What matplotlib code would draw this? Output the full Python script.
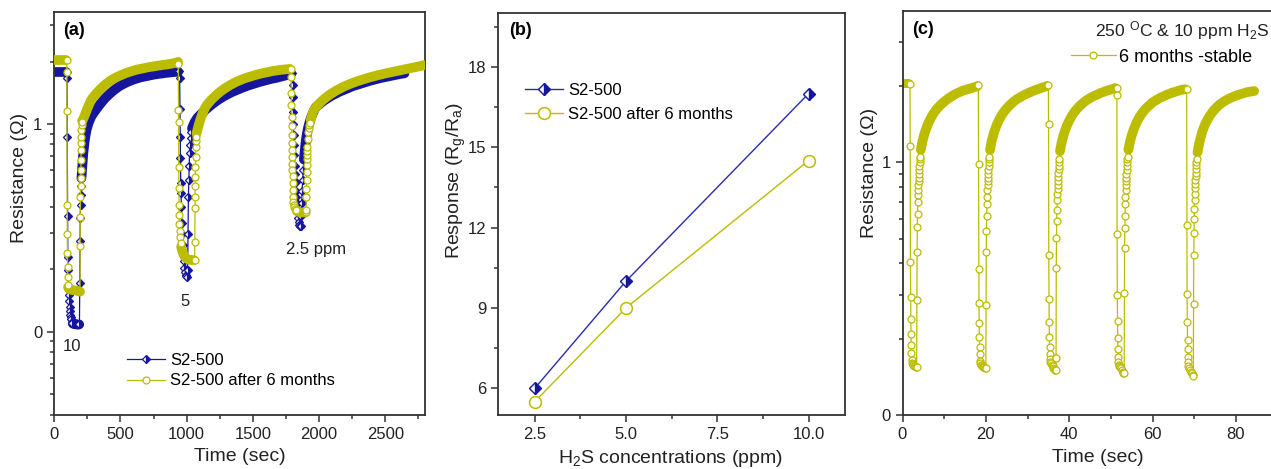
import numpy as np
import matplotlib
matplotlib.use("Agg")
import matplotlib.pyplot as plt
from matplotlib.lines import Line2D
from matplotlib.ticker import FixedLocator, MultipleLocator

plt.rcParams['font.family'] = ['Liberation Sans', 'DejaVu Sans']
plt.rcParams['mathtext.fontset'] = 'custom'
plt.rcParams['mathtext.rm'] = 'Liberation Sans'
plt.rcParams['mathtext.it'] = 'Liberation Sans:italic'
plt.rcParams['mathtext.bf'] = 'Liberation Sans:bold'

# ---------------------------------------------------------------------------
# Data. Resistance traces are stored as log10 values; each trace is a list of
# (start time, sampling step, values) segments.
# ---------------------------------------------------------------------------

# (a) S2-500, 10 / 5 / 2.5 ppm H2S pulses (time in s)
a_s2 = [
    (0, 10, [1.25, 1.25, 1.25, 1.25, 1.25, 1.25, 1.25, 1.25, 1.25, 1.25]),
    (94, 2, [1.25, 1.22, 0.94, 0.56, 0.36, 0.30]),
    (107, 3, [0.22, 0.18, 0.15, 0.12, 0.10, 0.08, 0.07, 0.06, 0.05, 0.045]),
    (140, 6, [0.040, 0.040, 0.038, 0.038, 0.036, 0.036, 0.035, 0.035, 0.036]),
    (190, 2, [0.04, 0.234, 0.44, 0.55, 0.61, 0.66, 0.70]),
    (205, 7, [0.74, 0.80, 0.86, 0.90, 0.935, 0.96, 0.98, 0.995, 1.01, 1.02, 1.03, 1.04]),
    (290, 15, [1.047, 1.061, 1.074, 1.087, 1.099, 1.111, 1.122, 1.132, 1.141, 1.150,
               1.158, 1.166, 1.173, 1.180, 1.186, 1.191, 1.196, 1.201, 1.205, 1.209,
               1.213, 1.216, 1.219, 1.222, 1.225, 1.227, 1.229, 1.231, 1.233, 1.235,
               1.237, 1.239, 1.240, 1.242, 1.243, 1.244, 1.246, 1.247, 1.248, 1.249,
               1.250, 1.251, 1.252, 1.252]),
    (945, 2, [1.255, 1.22, 1.075, 0.94, 0.835, 0.715, 0.667]),
    (960, 3, [0.60, 0.523, 0.47]),
    (970, 4, [0.42, 0.38, 0.34]),
    (983, 5, [0.31, 0.29, 0.275, 0.268, 0.266]),
    (1007, 3, [0.30, 0.47, 0.65, 0.73, 0.80, 0.86]),
    (1026, 4, [0.90, 0.935, 0.96]),
    (1040, 10, [0.98, 0.995, 1.01, 1.02, 1.03, 1.037]),
    (1100, 15, [1.043, 1.053, 1.062, 1.071, 1.079, 1.087, 1.095, 1.102, 1.109, 1.116,
                1.122, 1.128, 1.134, 1.139, 1.144, 1.149, 1.154, 1.158, 1.162, 1.166,
                1.170, 1.174, 1.178, 1.181, 1.185, 1.188, 1.191, 1.194, 1.197, 1.200,
                1.203, 1.206, 1.208, 1.211, 1.213, 1.216, 1.218, 1.220, 1.222, 1.224,
                1.227, 1.229, 1.232, 1.234, 1.237, 1.240, 1.243]),
    (1798, 2, [1.244, 1.19, 1.13, 1.06, 1.0, 0.95]),
    (1811, 3, [0.90, 0.85, 0.80, 0.76, 0.72, 0.68, 0.65, 0.62, 0.59, 0.57, 0.55]),
    (1845, 4, [0.53, 0.515, 0.51, 0.508, 0.51]),
    (1864, 4, [0.56, 0.62, 0.68, 0.73, 0.78]),
    (1885, 6, [0.83, 0.87, 0.905, 0.935, 0.958, 0.977, 0.993, 1.007, 1.02, 1.031,
               1.041, 1.05, 1.059, 1.067, 1.074, 1.081]),
    (1985, 15, [1.087, 1.095, 1.103, 1.110, 1.117, 1.123, 1.129, 1.135, 1.140, 1.145,
                1.150, 1.155, 1.159, 1.163, 1.167, 1.171, 1.175, 1.179, 1.183, 1.186,
                1.189, 1.192, 1.195, 1.198, 1.201, 1.204, 1.207, 1.210, 1.212, 1.215,
                1.217, 1.220, 1.222, 1.224, 1.226, 1.228, 1.230, 1.232, 1.234, 1.236,
                1.238, 1.240, 1.242, 1.243, 1.245]),
]

# (a) S2-500 after 6 months
a_s2_6m = [
    (0, 10, [1.31, 1.31, 1.31, 1.31, 1.31, 1.31, 1.31, 1.31, 1.31, 1.31]),
    (94, 1, [1.31, 1.25, 1.063, 0.61, 0.47, 0.38, 0.314, 0.266, 0.226]),
    (104, 6, [0.215, 0.208, 0.205, 0.203, 0.202, 0.202, 0.201, 0.201, 0.200, 0.200,
              0.199, 0.198, 0.197, 0.196, 0.195, 0.194]),
    (195, 1, [0.415, 0.554, 0.65, 0.70, 0.739, 0.779, 0.827, 0.875, 0.907, 0.939,
              0.971, 0.995, 1.011]),
    (210, 6, [1.016, 1.022, 1.03, 1.039, 1.049, 1.059, 1.069, 1.079, 1.088, 1.097,
              1.105, 1.113, 1.12]),
    (290, 15, [1.127, 1.139, 1.150, 1.160, 1.170, 1.179, 1.188, 1.196, 1.203, 1.210,
               1.216, 1.221, 1.226, 1.231, 1.235, 1.239, 1.243, 1.247, 1.250, 1.253,
               1.256, 1.259, 1.262, 1.264, 1.266, 1.268, 1.270, 1.272, 1.274, 1.276,
               1.277, 1.279, 1.280, 1.282, 1.283, 1.285, 1.286, 1.287, 1.289, 1.290,
               1.292, 1.294, 1.296, 1.300]),
    (937, 1, [1.292, 1.067, 1.011, 0.795, 0.691, 0.611, 0.563]),
    (945, 3, [0.52, 0.485, 0.455, 0.43]),
    (958, 6, [0.41, 0.395, 0.383, 0.373, 0.366, 0.36, 0.356, 0.353, 0.351, 0.349,
              0.348, 0.347, 0.347, 0.346, 0.346, 0.346, 0.346]),
    (1060, 1, [0.346, 0.434, 0.595, 0.65, 0.70, 0.747, 0.795, 0.843, 0.891, 0.92, 0.939]),
    (1074, 8, [0.955, 0.975, 0.995, 1.012, 1.028, 1.042, 1.055, 1.067, 1.078]),
    (1150, 15, [1.090, 1.102, 1.113, 1.123, 1.132, 1.141, 1.149, 1.157, 1.164, 1.171,
                1.177, 1.183, 1.189, 1.194, 1.199, 1.204, 1.208, 1.212, 1.216, 1.220,
                1.223, 1.226, 1.229, 1.232, 1.235, 1.238, 1.240, 1.243, 1.245, 1.247,
                1.249, 1.251, 1.253, 1.255, 1.257, 1.258, 1.260, 1.261, 1.262, 1.263,
                1.264, 1.265, 1.266]),
    (1788, 1, [1.268, 1.228, 1.148, 1.09, 1.035, 0.99, 0.947, 0.91, 0.875, 0.84,
               0.81, 0.779, 0.75, 0.715, 0.683, 0.65]),
    (1806, 4, [0.625, 0.61, 0.60, 0.594, 0.589, 0.585]),
    (1832, 8, [0.582, 0.579, 0.577, 0.576, 0.575, 0.575, 0.575, 0.575, 0.575]),
    (1901, 1, [0.575, 0.587, 0.65, 0.69, 0.731, 0.77, 0.803, 0.83, 0.85, 0.87, 0.89]),
    (1914, 4, [0.93, 0.96, 0.98, 0.995, 1.005]),
    (1936, 7, [1.02, 1.035, 1.05, 1.062]),
    (1965, 15, [1.072, 1.084, 1.095, 1.105, 1.114, 1.122, 1.130, 1.137, 1.144, 1.150,
                1.156, 1.162, 1.167, 1.172, 1.177, 1.182, 1.186, 1.190, 1.194, 1.198,
                1.201, 1.205, 1.208, 1.211, 1.214, 1.217, 1.220, 1.223, 1.226, 1.228,
                1.231, 1.233, 1.236, 1.238, 1.240, 1.243, 1.245, 1.247, 1.249, 1.251,
                1.253, 1.255, 1.257, 1.259, 1.261, 1.263, 1.265, 1.267, 1.269, 1.271,
                1.273, 1.275, 1.277, 1.279, 1.281, 1.284]),
]

a_annotations = [("10", 134, -0.072), ("5", 990, 0.145), ("2.5 ppm", 1975, 0.398)]

# (b) response vs concentration
conc_ppm = [2.5, 5.0, 10.0]
resp_s2 = [6.0, 10.0, 17.0]
resp_s2_6m = [5.5, 9.0, 14.5]

# (c) repeated 10 ppm pulses at 250 C after 6 months (time in s)
c_cycles = [
    (0.0, 0.2, [1.313, 1.313, 1.313, 1.313, 1.313, 1.313, 1.313, 1.313, 1.313]),
    (1.8, 0.05, [1.31, 1.066, 0.607, 0.468, 0.38, 0.319, 0.277, 0.244, 0.218, 0.205]),
    (2.4, 0.2, [0.202, 0.199, 0.196, 0.194, 0.192, 0.191]),
    (3.45, 0.05, [0.455, 0.646, 0.745, 0.798, 0.844, 0.871, 0.89, 0.91, 0.925, 0.94,
                  0.955, 0.97, 0.985, 1.0, 1.012, 1.022]),
    (4.4, 0.4, [1.05, 1.085, 1.11, 1.13, 1.148, 1.163, 1.176, 1.188, 1.198, 1.207,
                1.215, 1.222, 1.229, 1.235, 1.241, 1.246, 1.251, 1.256, 1.260, 1.264,
                1.268, 1.272, 1.275, 1.278, 1.281, 1.284, 1.286, 1.288, 1.290, 1.292,
                1.294, 1.296, 1.298, 1.300, 1.303]),
    (18.2, 0.05, [1.306, 0.996, 0.58, 0.442, 0.363, 0.31, 0.27, 0.24, 0.215, 0.205]),
    (18.8, 0.2, [0.20, 0.197, 0.194, 0.191, 0.189, 0.188, 0.187]),
    (20.05, 0.05, [0.435, 0.646, 0.73, 0.79, 0.835, 0.865, 0.89, 0.91, 0.925, 0.94,
                   0.955, 0.97, 0.985, 1.0, 1.012, 1.022]),
    (21.0, 0.4, [1.05, 1.085, 1.11, 1.13, 1.148, 1.163, 1.176, 1.187, 1.197, 1.206,
                 1.214, 1.221, 1.228, 1.234, 1.240, 1.245, 1.250, 1.254, 1.258, 1.262,
                 1.266, 1.269, 1.272, 1.275, 1.278, 1.281, 1.284, 1.286, 1.289, 1.291,
                 1.293, 1.296, 1.298, 1.300, 1.303]),
    (35.0, 0.05, [1.305, 1.154, 0.633, 0.458, 0.369, 0.31, 0.27, 0.24, 0.22, 0.21]),
    (35.6, 0.2, [0.205, 0.199, 0.193, 0.188, 0.184, 0.18, 0.178]),
    (36.85, 0.05, [0.224, 0.583, 0.702, 0.77, 0.81, 0.85, 0.875, 0.895, 0.912, 0.928,
                   0.943, 0.958, 0.973, 0.988, 1.002, 1.015]),
    (37.8, 0.4, [1.045, 1.08, 1.105, 1.126, 1.144, 1.159, 1.172, 1.184, 1.194, 1.203,
                 1.211, 1.218, 1.225, 1.231, 1.237, 1.242, 1.247, 1.251, 1.255, 1.259,
                 1.262, 1.265, 1.268, 1.271, 1.274, 1.277, 1.279, 1.282, 1.284, 1.286,
                 1.288, 1.290, 1.292, 1.295]),
    (51.4, 0.05, [1.297, 1.269, 0.715, 0.475, 0.373, 0.303, 0.26, 0.23, 0.21, 0.20]),
    (52.0, 0.2, [0.195, 0.19, 0.185, 0.178, 0.172, 0.168, 0.165]),
    (53.25, 0.05, [0.484, 0.66, 0.74, 0.79, 0.835, 0.865, 0.89, 0.91, 0.925, 0.94,
                   0.955, 0.97, 0.985, 1.0, 1.012, 1.022]),
    (54.2, 0.4, [1.05, 1.083, 1.107, 1.127, 1.144, 1.159, 1.172, 1.183, 1.193, 1.202,
                 1.210, 1.217, 1.223, 1.229, 1.235, 1.240, 1.244, 1.248, 1.252, 1.256,
                 1.259, 1.262, 1.265, 1.268, 1.271, 1.273, 1.276, 1.278, 1.280, 1.282,
                 1.284, 1.286, 1.288, 1.289, 1.290]),
    (68.2, 0.05, [1.291, 0.752, 0.478, 0.369, 0.297, 0.26, 0.23, 0.21, 0.195]),
    (68.8, 0.2, [0.185, 0.178, 0.172, 0.166, 0.16, 0.154]),
    (69.85, 0.05, [0.439, 0.633, 0.72, 0.775, 0.815, 0.85, 0.875, 0.898, 0.915, 0.93,
                   0.945, 0.96, 0.975, 0.99, 1.003, 1.015]),
    (70.8, 0.4, [1.04, 1.075, 1.102, 1.124, 1.142, 1.157, 1.17, 1.181, 1.191, 1.2,
                 1.208, 1.215, 1.222, 1.228, 1.233, 1.238, 1.242, 1.246, 1.25, 1.253,
                 1.256, 1.259, 1.262, 1.264, 1.267, 1.269, 1.271, 1.273, 1.275, 1.277,
                 1.279, 1.280, 1.281, 1.282, 1.283]),
]

# ---------------------------------------------------------------------------
BLUE = '#16169c'
BLUE_LINE = '#2a2ab0'
OLIVE = '#bcbc00'
TEXT = '#222222'
SPINE = '#333333'

DIAMOND = dict(marker='D', ms=4.2, fillstyle='right', mfc=BLUE, mfcalt='white',
               mec=BLUE, mew=0.9)
CIRCLE = dict(marker='o', ms=5, mfc='white', mec=OLIVE, mew=0.9)


def assemble(segments):
    t = np.concatenate([start + step * np.arange(len(v)) for start, step, v in segments])
    y = np.concatenate([np.asarray(v, float) for _, _, v in segments])
    return t, y


def draw_trace(ax, segments, color, marker_kw, dense_step, z):
    """Thin connecting line, open markers where samples are sparse and a solid
    stroke where the densely logged samples merge into one band."""
    t, y = assemble(segments)
    ax.plot(t, y, color=color, lw=0.9, zorder=z)
    for start, step, vals in segments:
        ts = start + step * np.arange(len(vals))
        if step >= dense_step:
            ax.plot(ts, vals, color=color, lw=7.0, solid_capstyle='round',
                    solid_joinstyle='round', zorder=z + 0.1)
        else:
            ax.plot(ts, vals, ls='none', zorder=z + 0.2, **marker_kw)


def log_minor(lo, hi):
    vals = [n + np.log10(k) for n in range(-2, 3) for k in range(2, 10)]
    return FixedLocator([v for v in vals if lo <= v <= hi])


def style(ax):
    for s in ax.spines.values():
        s.set_linewidth(1.3)
        s.set_color(SPINE)
    ax.tick_params(which='both', direction='out', color=SPINE, labelcolor=TEXT,
                   labelsize=12, width=1.1)
    ax.tick_params(which='major', length=5)
    ax.tick_params(which='minor', length=3)


fig = plt.figure(figsize=(12.71, 4.69), dpi=100)
W, H = 1271.0, 469.0
axA = fig.add_axes([54.3 / W, 54 / H, 370.7 / W, 403 / H])
axB = fig.add_axes([498.3 / W, 54 / H, 346.7 / W, 401.7 / H])
axC = fig.add_axes([902.5 / W, 54 / H, 375.0 / W, 404 / H])

# ---------------- (a) ----------------
draw_trace(axA, a_s2, BLUE, DIAMOND, 6, 2)
draw_trace(axA, a_s2_6m, OLIVE, CIRCLE, 6, 3)
axA.set_xlim(0, 2800)
axA.set_ylim(-0.40, 1.54)
axA.xaxis.set_major_locator(MultipleLocator(500))
axA.xaxis.set_minor_locator(MultipleLocator(250))
axA.yaxis.set_major_locator(FixedLocator([0, 1]))
axA.yaxis.set_minor_locator(log_minor(-0.40, 1.54))
axA.set_yticklabels(['0', '1'])
style(axA)
axA.set_xlabel('Time (sec)', fontsize=14, color=TEXT)
axA.set_ylabel('Resistance (Ω)', fontsize=14, color=TEXT)
axA.xaxis.set_label_coords(0.5, -0.083)
axA.yaxis.set_label_coords(-0.072, 0.588)
for txt, x, y in a_annotations:
    axA.text(x, y, txt, fontsize=12, color=TEXT, ha='center', va='center')
axA.text(0.0235, 0.955, '(a)', transform=axA.transAxes, fontsize=13,
         fontweight='bold', color='black', va='center', ha='left')
legA = [Line2D([], [], color=BLUE, lw=0.9, **DIAMOND),
        Line2D([], [], color=OLIVE, lw=0.9, **CIRCLE)]
axA.legend(legA, ['S2-500', 'S2-500 after 6 months'], loc='upper left',
           bbox_to_anchor=(0.196, 0.155), frameon=False, fontsize=12,
           handlelength=2.3, handletextpad=0.3, labelspacing=0.35,
           borderpad=0, borderaxespad=0)

# ---------------- (b) ----------------
axB.plot(conc_ppm, resp_s2, color=BLUE_LINE, lw=1.0, marker='D', ms=6.6,
         fillstyle='right', mfc=BLUE, mfcalt='white', mec=BLUE, mew=1.0,
         label='S2-500')
axB.plot(conc_ppm, resp_s2_6m, color=OLIVE, lw=1.0, marker='o', ms=8.5,
         mfc='white', mec=OLIVE, mew=1.1, label='S2-500 after 6 months')
axB.set_xlim(1.5, 11.0)
axB.set_ylim(5, 20)
axB.xaxis.set_major_locator(FixedLocator([2.5, 5.0, 7.5, 10.0]))
axB.xaxis.set_minor_locator(FixedLocator([3.75, 6.25, 8.75]))
axB.set_xticklabels(['2.5', '5.0', '7.5', '10.0'])
axB.yaxis.set_major_locator(MultipleLocator(3))
axB.yaxis.set_minor_locator(FixedLocator([7.5, 10.5, 13.5, 16.5, 19.5]))
style(axB)
axB.set_xlabel('H$_\\mathrm{2}$S concentrations (ppm)', fontsize=14, color=TEXT)
axB.set_ylabel('Response (R$_\\mathrm{g}$/R$_\\mathrm{a}$)', fontsize=14, color=TEXT)
axB.xaxis.set_label_coords(0.495, -0.083)
axB.yaxis.set_label_coords(-0.088, 0.585)
axB.text(0.031, 0.958, '(b)', transform=axB.transAxes, fontsize=13,
         fontweight='bold', color='black', va='center', ha='left')
axB.legend(loc='upper left', bbox_to_anchor=(0.077, 0.827), frameon=False,
           fontsize=12, handlelength=2.3, handletextpad=0.3, labelspacing=0.55,
           borderpad=0, borderaxespad=0)

# ---------------- (c) ----------------
draw_trace(axC, c_cycles, OLIVE, CIRCLE, 0.4, 2)
axC.set_xlim(0, 90)
axC.set_ylim(0, 1.6)
axC.xaxis.set_major_locator(MultipleLocator(20))
axC.xaxis.set_minor_locator(MultipleLocator(10))
axC.yaxis.set_major_locator(FixedLocator([0, 1]))
axC.yaxis.set_minor_locator(log_minor(0, 1.6))
axC.set_yticklabels(['0', '1'])
style(axC)
axC.set_xlabel('Time (sec)', fontsize=14, color=TEXT)
axC.set_ylabel('Resistance (Ω)', fontsize=14, color=TEXT)
axC.xaxis.set_label_coords(0.521, -0.083)
axC.yaxis.set_label_coords(-0.064, 0.599)
axC.text(0.0245, 0.953, '(c)', transform=axC.transAxes, fontsize=13,
         fontweight='bold', color='black', va='center', ha='left')
axC.text(0.513, 0.952, '250 $^{\\mathrm{O}}$C & 10 ppm H$_\\mathrm{2}$S',
         transform=axC.transAxes, fontsize=12.6, color=TEXT, va='center', ha='left')
axC.legend([Line2D([], [], color=OLIVE, lw=0.9, **CIRCLE)], ['6 months -stable'],
           loc='upper left', bbox_to_anchor=(0.449, 0.907), frameon=False,
           fontsize=13, handlelength=2.5, handletextpad=0.15, borderpad=0,
           borderaxespad=0)

fig.savefig('out.png', dpi=100)
